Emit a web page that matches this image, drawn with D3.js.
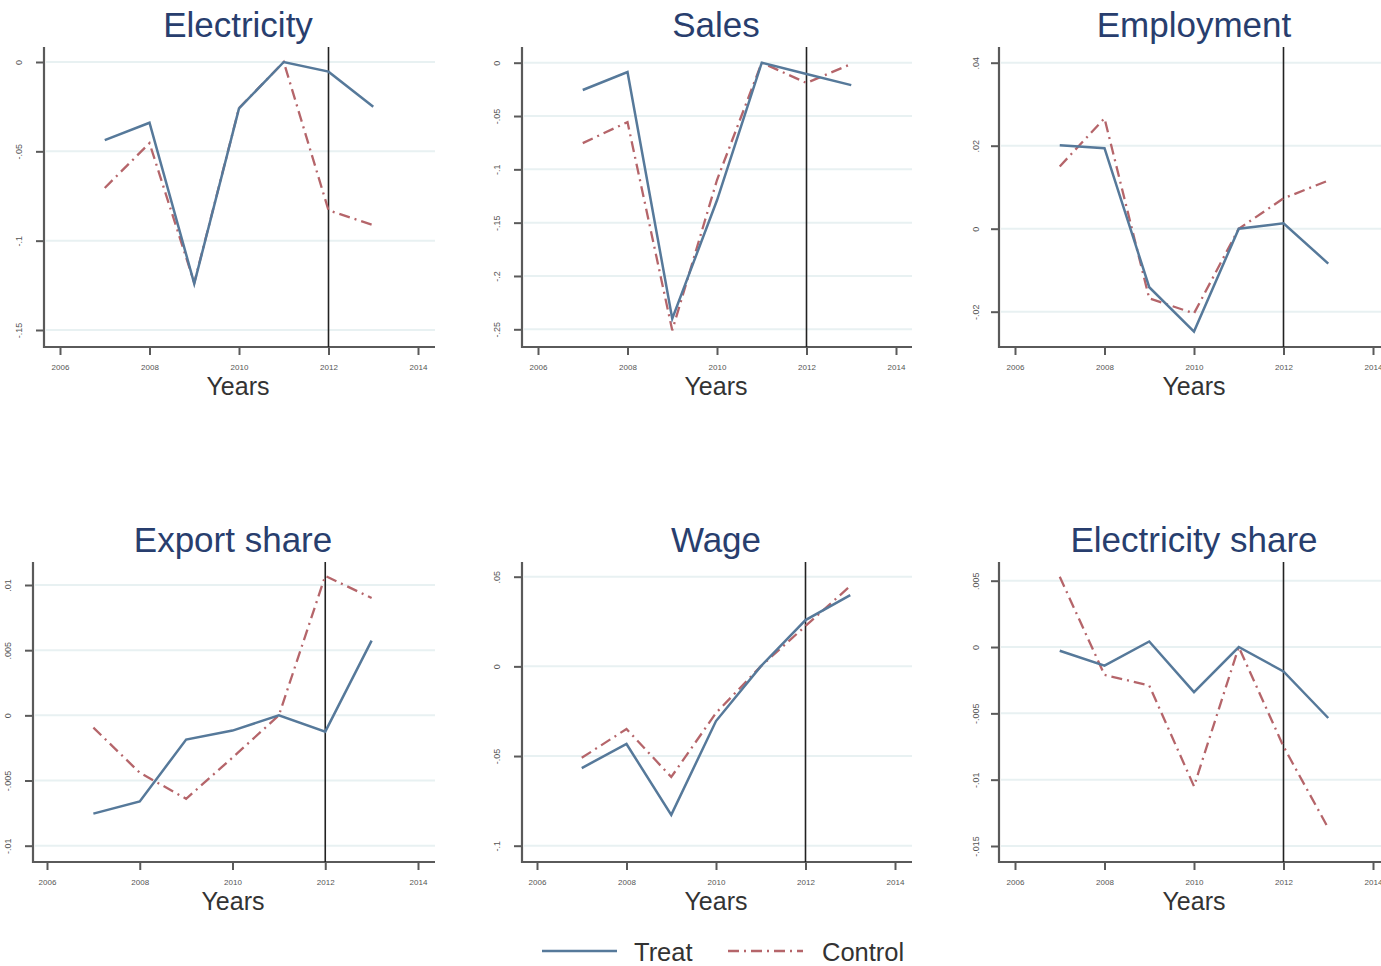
<!DOCTYPE html>
<html>
<head>
<meta charset="utf-8">
<script src="https://cdn.jsdelivr.net/npm/d3@7"></script>
<style>
  html, body { margin: 0; padding: 0; background: #fff; }
  svg { display: block; }
</style>
</head>
<body>
<svg id="chart" width="1381" height="966"></svg>
<script>
// ---- data ----
const years = [2007, 2008, 2009, 2010, 2011, 2012, 2013];
const xTickYears = [2006, 2008, 2010, 2012, 2014];
const treatmentYear = 2012;

const titles = ["Electricity", "Sales", "Employment", "Export share", "Wage", "Electricity share"];

const electricityTreat   = [-0.0437, -0.034, -0.124, -0.026, 0, -0.0054, -0.025];
const electricityControl = [-0.0705, -0.0454, -0.1236, -0.0258, 0, -0.083, -0.0913];

const salesTreat   = [-0.0256, -0.0087, -0.240, -0.129, 0, -0.0106, -0.021];
const salesControl = [-0.0754, -0.0557, -0.251, -0.110, 0, -0.019, -0.0012];

const employmentTreat   = [0.0201, 0.0194, -0.0141, -0.0248, 0, 0.0013, -0.0084];
const employmentControl = [0.0150, 0.0266, -0.0168, -0.0204, 0, 0.0073, 0.0116];

const exportTreat   = [-0.00754, -0.0066, -0.00186, -0.00117, 0, -0.00125, 0.00573];
const exportControl = [-0.00094, -0.0044, -0.0064, -0.00324, 0, 0.0107, 0.0090];

const wageTreat   = [-0.0567, -0.0433, -0.0828, -0.0305, 0, 0.0258, 0.0397];
const wageControl = [-0.0510, -0.0349, -0.0617, -0.0260, 0, 0.0225, 0.0448];

const elecShareTreat   = [-0.00028, -0.0014, 0.00042, -0.0034, 0, -0.00184, -0.00535];
const elecShareControl = [0.0053, -0.0021, -0.0029, -0.0105, 0, -0.0075, -0.01365];

const yTicks = [
  [0, -0.05, -0.1, -0.15],
  [0, -0.05, -0.1, -0.15, -0.2, -0.25],
  [0.04, 0.02, 0, -0.02],
  [0.01, 0.005, 0, -0.005, -0.01],
  [0.05, 0, -0.05, -0.1],
  [0.005, 0, -0.005, -0.01, -0.015]
];
const yTickLabels = [
  ["0", "-.05", "-.1", "-.15"],
  ["0", "-.05", "-.1", "-.15", "-.2", "-.25"],
  [".04", ".02", "0", "-.02"],
  [".01", ".005", "0", "-.005", "-.01"],
  [".05", "0", "-.05", "-.1"],
  [".005", "0", "-.005", "-.01", "-.015"]
];

const treatSeries   = [electricityTreat, salesTreat, employmentTreat, exportTreat, wageTreat, elecShareTreat];
const controlSeries = [electricityControl, salesControl, employmentControl, exportControl, wageControl, elecShareControl];

const legendLabels = ["Treat", "Control"];

// ---- layout (pixel frames for each panel) ----
// axisX: y-axis line; x0/x1: pixel of 2006/2014; right: end of x-axis;
// top/bottom: plot frame; yt0/yt1: pixel of first/last y tick
const frames = [
  { axisX: 44,  x0: 60,   x1: 418,  right: 435,  top: 47,  bottom: 347, yt0: 62,    yt1: 330,   titleX: 238,  labelX: 20 },
  { axisX: 522, x0: 538,  x1: 896,  right: 912,  top: 47,  bottom: 347, yt0: 62.7,  yt1: 329.3, titleX: 716,  labelX: 498 },
  { axisX: 999, x0: 1015, x1: 1373, right: 1392, top: 47,  bottom: 347, yt0: 62.7,  yt1: 311.7, titleX: 1194, labelX: 977 },
  { axisX: 33,  x0: 47,   x1: 418,  right: 435,  top: 562, bottom: 862, yt0: 585,   yt1: 845.7, titleX: 233,  labelX: 9 },
  { axisX: 522, x0: 537,  x1: 895,  right: 912,  top: 562, bottom: 862, yt0: 576.7, yt1: 845.7, titleX: 716,  labelX: 498 },
  { axisX: 999, x0: 1015, x1: 1373, right: 1392, top: 562, bottom: 862, yt0: 580.7, yt1: 846,   titleX: 1194, labelX: 977 }
];

const COLORS = {
  treat: "#56799a",
  control: "#b5656a",
  grid: "#e8f1f2",
  axis: "#5a5a5a",
  title: "#283e6e",
  text: "#333"
};
const CONTROL_DASH = "11,5,2,5";
const FONT = "'Liberation Sans', Arial, Helvetica, sans-serif";

const svg = d3.select("#chart");

titles.forEach((title, i) => {
  const f = frames[i];
  const g = svg.append("g");

  const x = d3.scaleLinear().domain([2006, 2014]).range([f.x0, f.x1]);
  const ticks = yTicks[i];
  const y = d3.scaleLinear()
    .domain([ticks[0], ticks[ticks.length - 1]])
    .range([f.yt0, f.yt1]);

  // horizontal grid lines
  g.selectAll("line.grid").data(ticks).enter().append("line")
    .attr("class", "grid")
    .attr("x1", f.axisX + 2).attr("x2", f.right)
    .attr("y1", d => y(d)).attr("y2", d => y(d))
    .attr("stroke", COLORS.grid).attr("stroke-width", 2);

  // y axis
  const yAxis = d3.axisLeft(y).tickValues(ticks).tickSize(8)
    .tickFormat((d, k) => yTickLabels[i][k]);
  const ya = g.append("g").attr("transform", `translate(${f.axisX},0)`).call(yAxis);
  ya.select(".domain").remove();
  ya.selectAll(".tick line").attr("stroke", COLORS.axis).attr("stroke-width", 2);
  ya.selectAll(".tick text")
    .attr("x", 0).attr("y", 0)
    .attr("dy", null)
    .attr("transform", `translate(${f.labelX - f.axisX},0) rotate(-90)`)
    .attr("text-anchor", "middle")
    .attr("dominant-baseline", "middle")
    .attr("font-family", FONT).attr("font-size", 9).attr("fill", "#555");

  // x axis
  const xAxis = d3.axisBottom(x).tickValues(xTickYears).tickSize(8).tickFormat(d3.format("d"));
  const xa = g.append("g").attr("transform", `translate(0,${f.bottom})`).call(xAxis);
  xa.select(".domain").remove();
  xa.selectAll(".tick line").attr("stroke", COLORS.axis).attr("stroke-width", 2);
  xa.selectAll(".tick text")
    .attr("y", 17)
    .attr("font-family", FONT).attr("font-size", 8).attr("fill", "#555");

  // axis frame lines
  g.append("line")
    .attr("x1", f.axisX).attr("x2", f.axisX)
    .attr("y1", f.top).attr("y2", f.bottom + 1)
    .attr("stroke", COLORS.axis).attr("stroke-width", 2.2);
  g.append("line")
    .attr("x1", f.axisX - 1).attr("x2", f.right)
    .attr("y1", f.bottom).attr("y2", f.bottom)
    .attr("stroke", COLORS.axis).attr("stroke-width", 2.2);

  // treatment year marker
  g.append("line")
    .attr("x1", x(treatmentYear)).attr("x2", x(treatmentYear))
    .attr("y1", f.top).attr("y2", f.bottom)
    .attr("stroke", "#222").attr("stroke-width", 1.6);

  const line = d3.line().x((d, k) => x(years[k])).y(d => y(d));

  g.append("path").datum(controlSeries[i])
    .attr("d", line).attr("fill", "none")
    .attr("stroke", COLORS.control).attr("stroke-width", 2.3)
    .attr("stroke-dasharray", CONTROL_DASH);
  g.append("path").datum(treatSeries[i])
    .attr("d", line).attr("fill", "none")
    .attr("stroke", COLORS.treat).attr("stroke-width", 2.5)
    .attr("stroke-linejoin", "miter");

  // title
  g.append("text")
    .attr("x", f.titleX).attr("y", f.top - 10)
    .attr("text-anchor", "middle")
    .attr("font-family", FONT).attr("font-size", 35)
    .attr("fill", COLORS.title)
    .text(title);

  // x-axis title
  g.append("text")
    .attr("x", f.titleX).attr("y", f.bottom + 48)
    .attr("text-anchor", "middle")
    .attr("font-family", FONT).attr("font-size", 25)
    .attr("fill", COLORS.text)
    .text("Years");
});

// legend
const legend = svg.append("g");
const legendItems = [
  { label: legendLabels[0], color: COLORS.treat, dash: null, x1: 542, x2: 617, tx: 634 },
  { label: legendLabels[1], color: COLORS.control, dash: CONTROL_DASH, x1: 728, x2: 803, tx: 822 }
];
legendItems.forEach(it => {
  legend.append("line")
    .attr("x1", it.x1).attr("x2", it.x2).attr("y1", 951).attr("y2", 951)
    .attr("stroke", it.color).attr("stroke-width", 2.6)
    .attr("stroke-dasharray", it.dash);
  legend.append("text")
    .attr("x", it.tx).attr("y", 961)
    .attr("font-family", FONT).attr("font-size", 25.5)
    .attr("fill", COLORS.text)
    .text(it.label);
});
</script>
</body>
</html>
